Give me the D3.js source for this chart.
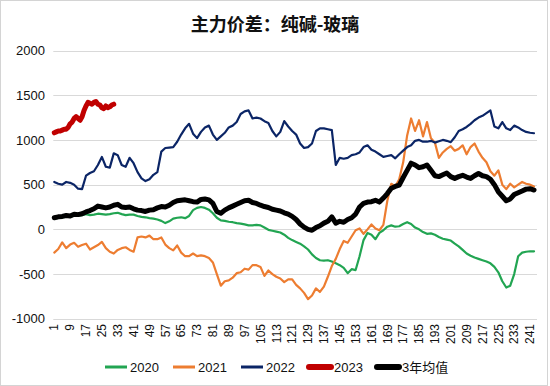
<!DOCTYPE html>
<html>
<head>
<meta charset="utf-8">
<script src="https://cdn.jsdelivr.net/npm/d3@7/dist/d3.min.js"></script>
<style>
  body { margin: 0; background: #fff; }
  svg text { font-family: "Liberation Sans", Arial, "Noto Sans CJK SC", sans-serif; fill: #111; }
</style>
</head>
<body>
<svg id="chart" width="550" height="386"></svg>
<script>
// category axis: trading days 1..244, ticks every 8
var days = d3.range(1, 245);
var tickLabels = [1, 9, 17, 25, 33, 41, 49, 57, 65, 73, 81, 89, 97, 105, 113, 121, 129, 137,
                  145, 153, 161, 169, 177, 185, 193, 201, 209, 217, 225, 233, 241];
var yTicks = [-1000, -500, 0, 500, 1000, 1500, 2000];

// values read every second day (1,3,5,...,243)
var sampleDays = d3.range(1, 244, 2);

var s2020 = [120,128,135,142,140,155,152,160,170,160,
  165,175,170,165,170,180,185,170,160,165,
  165,150,140,135,125,120,110,95,70,90,
  120,130,135,125,150,215,240,250,240,220,
  180,130,100,95,85,80,70,65,55,45,
  45,50,45,20,-5,-15,-25,-35,-60,-95,
  -120,-140,-160,-190,-225,-280,-320,-345,-350,-345,
  -360,-380,-400,-430,-490,-445,-455,-300,-120,-40,
  -60,-110,-40,-10,30,45,30,35,60,80,
  60,20,0,-30,-50,-45,-60,-85,-105,-115,
  -125,-160,-190,-230,-270,-295,-315,-330,-345,-360,
  -380,-420,-480,-580,-650,-630,-500,-300,-260,-250,
  -245,-245];

var s2021 = [-260,-220,-145,-210,-170,-150,-195,-175,-160,-225,
  -200,-175,-140,-210,-250,-270,-230,-210,-200,-230,
  -250,-90,-80,-90,-70,-110,-110,-90,-170,-210,
  -235,-180,-260,-300,-300,-270,-300,-290,-300,-320,
  -370,-500,-630,-580,-570,-540,-490,-480,-440,-450,
  -400,-400,-420,-520,-460,-500,-530,-550,-590,-560,
  -560,-620,-660,-710,-780,-740,-660,-700,-640,-530,
  -410,-330,-220,-130,-150,-80,-10,10,-50,0,
  55,10,-10,50,320,510,480,560,750,1050,
  1240,1100,1220,1040,1200,1020,970,800,860,900,
  930,880,900,940,840,920,960,870,800,750,
  650,600,660,500,450,510,470,500,530,510,
  500,480];

var s2022 = [530,510,500,530,520,500,455,450,600,630,
  650,720,810,700,690,850,830,720,700,800,
  740,640,570,540,560,610,640,870,910,915,
  920,980,1060,1130,1180,1070,1020,1090,1140,1160,
  1060,1000,1040,1080,1140,1160,1200,1290,1320,1330,
  1240,1250,1240,1210,1190,1100,1040,1090,1210,1150,
  1100,1060,960,910,920,960,1100,1130,1130,1120,
  1110,720,800,790,800,830,840,860,920,940,
  890,870,840,810,820,830,795,840,880,920,
  940,990,1000,980,980,990,970,985,1000,990,
  975,1030,1100,1120,1145,1180,1220,1250,1270,1300,
  1330,1150,1130,1200,1130,1110,1160,1140,1110,1090,
  1080,1075];

// 2023 so far, every day 1..31
var s2023 = [1080,1090,1100,1100,1110,1120,1120,1140,1180,1200,
  1240,1260,1240,1220,1260,1330,1380,1420,1410,1400,
  1420,1430,1400,1390,1360,1350,1380,1360,1370,1390,
  1400];

var sAvg = [130,140,145,155,150,170,165,175,195,210,
  230,260,250,240,250,270,280,250,245,250,
  230,215,210,200,215,220,240,255,250,270,
  300,320,325,330,320,310,305,335,340,330,
  290,200,180,215,240,260,280,300,320,325,
  300,290,270,255,245,225,215,205,185,170,
  145,110,60,25,0,-10,20,40,70,90,
  140,70,90,80,110,130,170,250,290,305,
  310,325,305,350,400,460,480,495,580,660,
  740,720,690,700,720,660,600,590,610,630,
  590,570,590,605,585,570,600,625,600,590,
  560,500,420,370,320,340,390,410,430,450,
  455,440];

var seriesNames = ["2020", "2021", "2022", "2023", "3年均值"];
var seriesColors = ["#22a552", "#ed7d31", "#0b2566", "#c00000", "#000000"];

var svg = d3.select("#chart");

svg.append("rect")
   .attr("x", 0.5).attr("y", 0.5)
   .attr("width", 547).attr("height", 385)
   .attr("fill", "#fff")
   .attr("stroke", "#d4d4d4");

var x = d3.scaleBand().domain(days).range([53.3, 537]);
var y = d3.scaleLinear().domain([-1000, 2000]).range([318.8, 50.5]);

function cx(d) { return x(d) + x.bandwidth() / 2; }

// gridlines
svg.append("g").selectAll("line")
   .data(yTicks)
   .enter().append("line")
   .attr("x1", 53.3).attr("x2", 537)
   .attr("y1", function(d) { return Math.round(y(d)) + 0.5; })
   .attr("y2", function(d) { return Math.round(y(d)) + 0.5; })
   .attr("stroke", "#d9d9d9")
   .attr("stroke-width", 1);

// y axis labels
var yAxis = d3.axisLeft(y).tickValues(yTicks).tickSize(0).tickPadding(0)
  .tickFormat(function(d) { return String(d); });
var gy = svg.append("g").attr("transform", "translate(45,0)").call(yAxis);
gy.select(".domain").remove();
gy.selectAll("text").style("font-size", "13px").attr("fill", "#111");

// x axis labels (rotated)
var gx = svg.append("g");
gx.selectAll("text")
  .data(tickLabels)
  .enter().append("text")
  .attr("transform", function(d) { return "translate(" + cx(d) + ",324) rotate(-90)"; })
  .attr("text-anchor", "end")
  .attr("dy", "0.35em")
  .style("font-size", "12px")
  .text(function(d) { return d; });

var line = d3.line()
  .x(function(d) { return cx(d[0]); })
  .y(function(d) { return y(d[1]); });

function pairs(dayList, vals) {
  return vals.map(function(v, i) { return [dayList[i], v]; });
}

var plotData = [
  { vals: pairs(sampleDays, s2020), w: 2.2 },
  { vals: pairs(sampleDays, s2021), w: 2.2 },
  { vals: pairs(sampleDays, s2022), w: 2.2 },
  { vals: pairs(days, s2023), w: 5 },
  { vals: pairs(sampleDays, sAvg), w: 5 }
];

plotData.forEach(function(s, i) {
  svg.append("path")
     .attr("d", line(s.vals))
     .attr("fill", "none")
     .attr("stroke", seriesColors[i])
     .attr("stroke-width", s.w)
     .attr("stroke-linejoin", "round")
     .attr("stroke-linecap", "round");
});

// title
svg.append("text")
   .attr("x", 275).attr("y", 31)
   .attr("text-anchor", "middle")
   .style("font-family", "'Noto Sans CJK SC', sans-serif")
   .style("font-size", "18px")
   .style("font-weight", "bold")
   .text("主力价差：纯碱-玻璃");

// legend
var legendX = [104, 172, 240, 308, 376];
var lg = svg.append("g");
seriesNames.forEach(function(name, i) {
  var thick = (i >= 3) ? 6 : 3;
  lg.append("line")
    .attr("x1", legendX[i] + 1).attr("x2", legendX[i] + 23)
    .attr("y1", 367).attr("y2", 367)
    .attr("stroke", seriesColors[i])
    .attr("stroke-width", thick)
    .attr("stroke-linecap", i >= 3 ? "round" : "butt");
  lg.append("text")
    .attr("x", legendX[i] + 26).attr("y", 367)
    .attr("dy", "0.36em")
    .style("font-size", "13px")
    .text(name);
});
</script>
</body>
</html>
